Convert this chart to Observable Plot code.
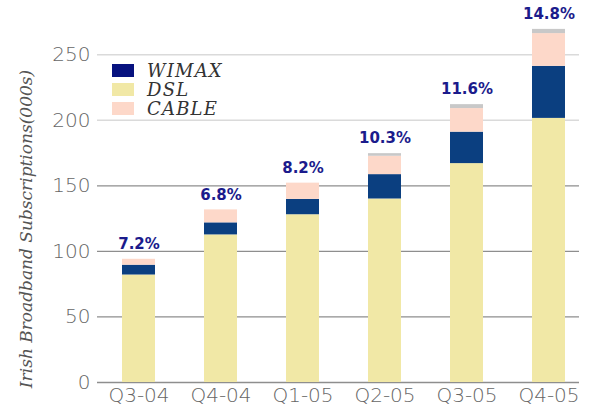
<!DOCTYPE html>
<html>
<head>
<meta charset="utf-8">
<script src="https://cdn.jsdelivr.net/npm/d3@7"></script>
<script src="https://cdn.jsdelivr.net/npm/@observablehq/plot@0.6"></script>
<style>
  html, body { margin: 0; padding: 0; background: #fff; }
  #wrap { position: relative; width: 600px; height: 406px; }
  #legend { position: absolute; left: 112px; top: 61px; font-family: "DejaVu Serif", serif; font-style: italic; font-size: 18px; line-height: 19px; color: #333; letter-spacing: 1.2px; }
  #legend .row { display: flex; align-items: center; height: 19px; }
  #legend .sw { width: 22px; height: 13px; margin-right: 13px; }
  #legend span { display: block; height: 19px; line-height: 19px; }
</style>
</head>
<body>
<div id="wrap">
  <div id="chart"></div>
  <div id="legend"></div>
</div>
<script>
const quarters = ["Q3-04", "Q4-04", "Q1-05", "Q2-05", "Q3-05", "Q4-05"];
const dsl   = [82, 112.6, 128, 140, 167, 201.5];
const wimax = [7.5, 9.2, 11.7, 18.6, 24, 39.7];
const cable = [4.5, 9.9, 12.4, 14, 18, 25];
const other = [0, 0, 0, 2, 3, 3.2];
const penetration = ["7.2%", "6.8%", "8.2%", "10.3%", "11.6%", "14.8%"];
const yTicks = [0, 50, 100, 150, 200, 250];
const darkGrid = [0, 50, 100, 150];
const lightGrid = [200, 250];

const types = ["DSL", "WIMAX", "CABLE", "Other"];
const colors = ["#f1e8a6", "#0b3f80", "#fdd8c9", "#c8c8c8"];
const legendItems = [
  {label: "WIMAX", color: "#07127f"},
  {label: "DSL", color: "#f1e8a6"},
  {label: "CABLE", color: "#fdd8c9"}
];

const series = {DSL: dsl, WIMAX: wimax, CABLE: cable, Other: other};
const long = [];
quarters.forEach((q, i) => {
  types.forEach(t => long.push({quarter: q, type: t, value: series[t][i]}));
});
const totals = quarters.map((q, i) => ({
  quarter: q,
  total: dsl[i] + wimax[i] + cable[i] + other[i],
  label: penetration[i]
}));

const chart = Plot.plot({
  width: 600,
  height: 406,
  marginLeft: 97,
  marginRight: 11,
  marginTop: 15,
  marginBottom: 24,
  style: {fontFamily: "DejaVu Sans, sans-serif", background: "#fff"},
  x: {domain: quarters, paddingInner: 0.6, paddingOuter: 0.28, label: null},
  y: {domain: [0, 280], label: null},
  color: {domain: types, range: colors},
  marks: [
    Plot.ruleY(lightGrid, {stroke: "#dadada", strokeWidth: 1.5, insetRight: 10}),
    Plot.ruleY(darkGrid, {stroke: "#8e8e8e", strokeWidth: 1.3, insetRight: 10}),
    Plot.barY(long, {x: "quarter", y: "value", fill: "type", order: types}),
    Plot.text(totals, {x: "quarter", y: "total", text: "label", dy: -15, fill: "#1b1b8c",
      fontSize: 15, fontWeight: "bold", style: "letter-spacing:1.8px"}),
    Plot.axisX({tickSize: 0, tickPadding: 5, fontSize: 20, fill: "#666", fontWeight: 200}),
    Plot.axisY({ticks: yTicks, tickSize: 0, tickPadding: 7, fontSize: 20, fill: "#666", fontWeight: 200}),
    Plot.text(["Irish Broadband Subscriptions(000s)"], {frameAnchor: "left", textAnchor: "middle", rotate: -90, dx: -71, dy: 30,
      fontFamily: "DejaVu Serif, serif", fontStyle: "italic", fontSize: 17, fill: "#555"})
  ]
});
document.getElementById("chart").appendChild(chart);

const leg = d3.select("#legend");
legendItems.forEach(d => {
  const row = leg.append("div").attr("class", "row");
  row.append("div").attr("class", "sw").style("background", d.color);
  row.append("span").text(d.label);
});
</script>
</body>
</html>
